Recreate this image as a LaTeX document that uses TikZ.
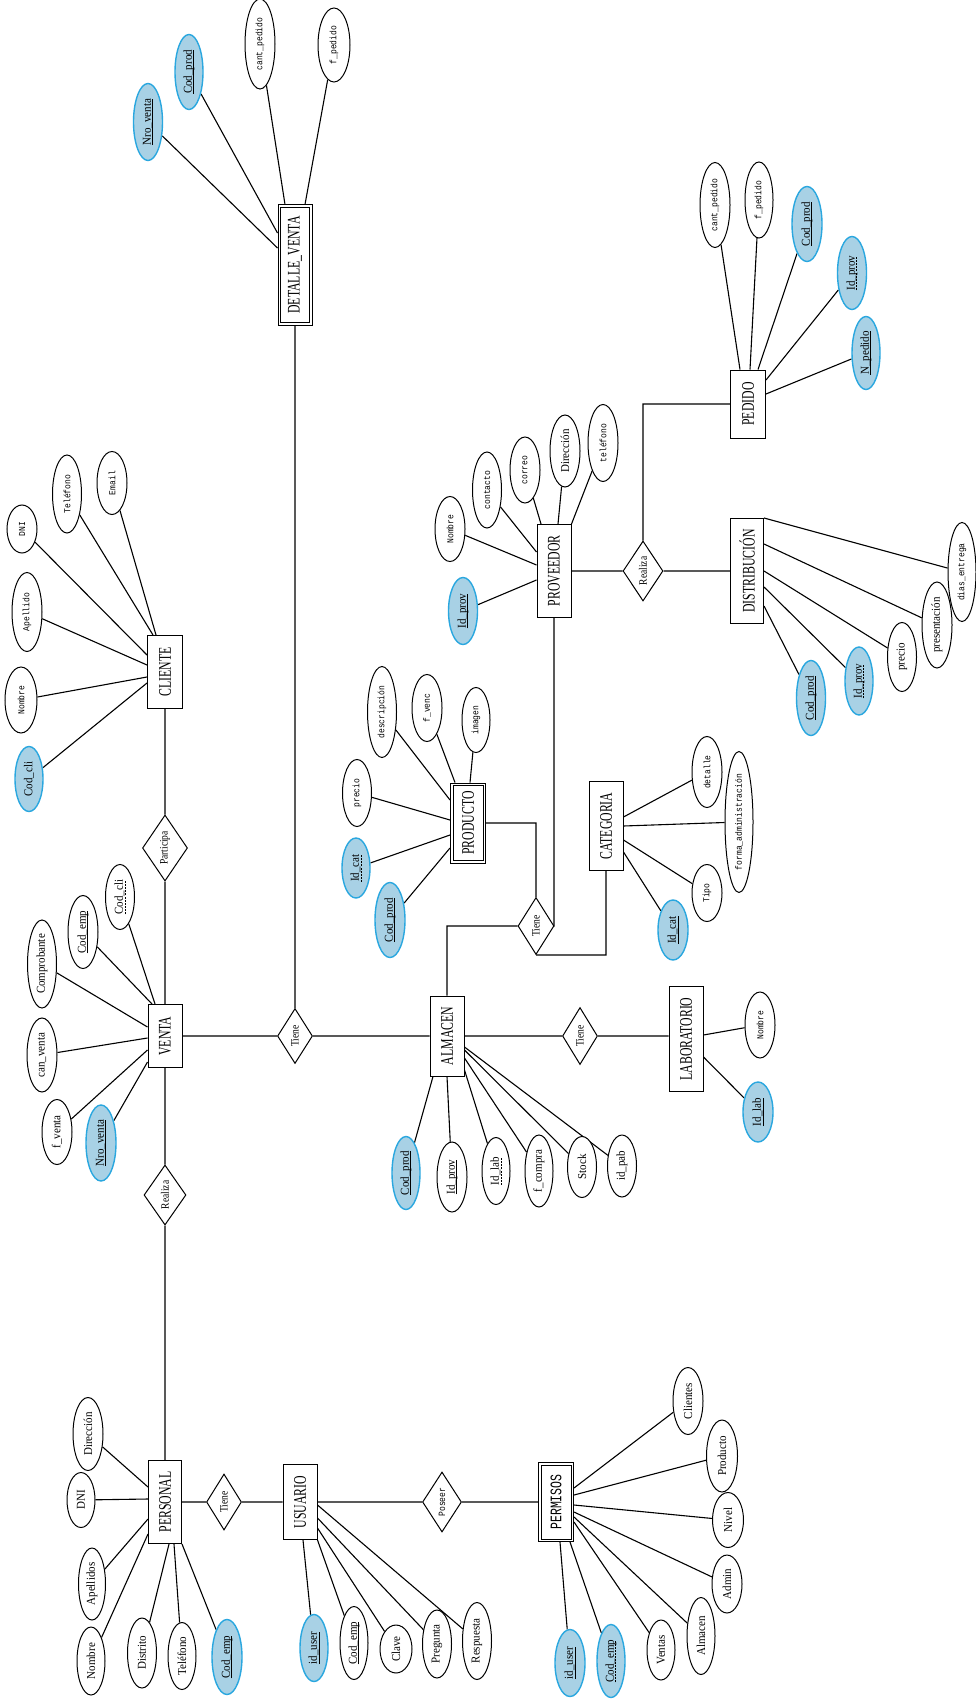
\documentclass[tikz,border=0pt]{standalone}
\usepackage{fontspec}
\setmainfont{Liberation Serif}
\setmonofont{Liberation Mono}
\usetikzlibrary{shapes.geometric,calc}
\definecolor{keyfill}{RGB}{168,209,229}
\definecolor{keyline}{RGB}{42,167,223}
\newcommand\kk{1}
\newcommand\rt[1]{\raisebox{-0.5\height}[0pt][0pt]{\rotatebox{90}{\scalebox{1}[\kk]{#1}}}}
\newcommand\sul[1]{\setbox0\hbox{#1}\rlap{\raisebox{-2.2pt}{\rule{\wd0}{0.8pt}}}\box0}
\newcommand\dul[1]{\setbox0\hbox{#1}\rlap{\raisebox{-2.2pt}{\hbox to \wd0{\xleaders\hbox to 3pt{\rule{2pt}{0.8pt}\hfil}\hfill}}}\box0}
\pgfdeclarelayer{bgfill}
\pgfdeclarelayer{lines}
\pgfsetlayers{bgfill,lines,main}
\begin{document}
\begin{tikzpicture}[x=1pt,y=-1pt,
 sz/.style 2 args={minimum width=#1pt,minimum height=#2pt},
 ent/.style={draw,rectangle,line width=1pt,inner sep=0pt,fill=white,font=\fontsize{11.8}{12}\selectfont\def\kk{1.5}},
 went/.style={ent},
 wentm/.style={ent,font=\ttfamily\fontsize{11.5}{12}\selectfont\def\kk{1.4}},
 inbox/.style={draw=black,line width=0.9pt},
 aT/.style={draw,ellipse,line width=1pt,inner sep=0pt,fill=white,font=\fontsize{11}{12}\selectfont\def\kk{1.1}},
 aM/.style={aT,font=\ttfamily\fontsize{8}{9}\selectfont\def\kk{1.15}},
 kT/.style={aT,draw=keyline,fill=keyfill,line width=1.4pt},
 rel/.style={draw,diamond,line width=1pt,inner sep=0pt,fill=white,font=\fontsize{9.5}{10}\selectfont\def\kk{1.2}},
 relm/.style={rel,font=\ttfamily\fontsize{8}{9}\selectfont\def\kk{1.2}},
 con/.style={draw=black,line width=1.1pt}
]
\begin{pgfonlayer}{bgfill}
\fill[white] (0,0) rectangle (976,1699);
\end{pgfonlayer}
\useasboundingbox (0,0) rectangle (976,1699);

% ---------- entities ----------
\node[went,sz={34}{120}] (dv) at (295,265) {\rt{DETALLE\_VENTA}};
\node[ent,sz={35}{68}] (pe) at (748,404) {\rt{PEDIDO}};
\node[ent,sz={34}{93}] (pv) at (554,571) {\rt{PROVEEDOR}};
\node[ent,sz={33}{105}] (di) at (747,571) {\rt{DISTRIBUCIÓN}};
\node[ent,sz={35}{73}] (cl) at (165,672) {\rt{CLIENTE}};
\node[ent,sz={34}{63}] (ve) at (165,1036) {\rt{VENTA}};
\node[ent,sz={34}{80}] (al) at (447,1036) {\rt{ALMACEN}};
\node[ent,sz={34}{105}] (lab) at (686,1039) {\rt{LABORATORIO}};
\node[went,sz={35}{80}] (pr) at (468,823) {\rt{PRODUCTO}};
\node[ent,sz={34}{89}] (ca) at (606,826) {\rt{CATEGORIA}};
\node[ent,sz={33}{83}] (ps) at (165,1502) {\rt{PERSONAL}};
\node[ent,sz={34}{75}] (us) at (300,1502) {\rt{USUARIO}};
\node[wentm,sz={35}{79}] (pm) at (556,1502) {\rt{PERMISOS}};
% inner outlines of the weak entities
\draw[inbox] ([shift={(3pt,-3pt)}]dv.north west) rectangle ([shift={(-3pt,3pt)}]dv.south east);
\draw[inbox] ([shift={(3pt,-3pt)}]pr.north west) rectangle ([shift={(-3pt,3pt)}]pr.south east);
\draw[inbox] ([shift={(3pt,-3pt)}]pm.north west) rectangle ([shift={(-3pt,3pt)}]pm.south east);

% ---------- relationships ----------
\node[rel,sz={35}{55}] (t1) at (295,1036) {\rt{Tiene}};
\node[rel,sz={40}{60}] (r1) at (643,571) {\rt{Realiza}};
\node[rel,sz={36}{57}] (t2) at (536,926) {\rt{Tiene}};
\node[rel,sz={35}{57}] (t3) at (580,1036) {\rt{Tiene}};
\node[rel,sz={45}{66}] (pa) at (165,848) {\rt{Participa}};
\node[rel,sz={42}{60}] (re2) at (165,1195) {\rt{Realiza}};
\node[rel,sz={35}{56}] (t4) at (224,1502) {\rt{Tiene}};
\node[relm,sz={39}{60}] (po) at (442,1502) {\rt{Poseer}};

% ---------- attributes ----------
% DETALLE_VENTA
\node[kT,sz={29}{77}] (dv1) at (148,122) {\rt{\sul{Nro\_venta}}};
\node[kT,sz={28}{75}] (dv2) at (189,72) {\rt{\sul{Cod\_prod}}};
\node[aM,sz={30}{90}] (dv3) at (260,44) {\rt{cant\_pedido}};
\node[aM,sz={32}{74}] (dv4) at (334,45) {\rt{f\_pedido}};
% PEDIDO
\node[aM,sz={30}{85}] (pe1) at (715,205) {\rt{cant\_pedido}};
\node[aM,sz={28}{76}] (pe2) at (759,200) {\rt{f\_pedido}};
\node[kT,sz={30}{75}] (pe3) at (807,224) {\rt{\sul{Cod\_prod}}};
\node[kT,sz={29}{73}] (pe4) at (852,273) {\rt{\dul{Id\_prov}}};
\node[kT,sz={28}{73}] (pe5) at (866,353) {\rt{\sul{N\_pedido}}};
% PROVEEDOR
\node[kT,sz={29}{67}] (pv1) at (463,611) {\rt{\sul{Id\_prov}}};
\node[aM,sz={30}{65}] (pv2) at (450,529) {\rt{Nombre}};
\node[aM,sz={29}{76}] (pv3) at (487,490) {\rt{contacto}};
\node[aM,sz={30}{66}] (pv4) at (525,470) {\rt{correo}};
\node[aT,sz={30}{72}] (pv5) at (565,451) {\rt{Dirección}};
\node[aM,sz={30}{77}] (pv6) at (603,443) {\rt{teléfono}};
% DISTRIBUCION
\node[aM,sz={28}{99}] (di1) at (962,572) {\rt{dias\_entrega}};
\node[aT,sz={30}{86}] (di2) at (937,625) {\rt{presentación}};
\node[aT,sz={29}{69}] (di3) at (902,657) {\rt{precio}};
\node[kT,sz={28}{68}] (di4) at (859,681) {\rt{\dul{Id\_prov}}};
\node[kT,sz={29}{75}] (di5) at (811,698) {\rt{\sul{Cod\_prod}}};
% CLIENTE
\node[kT,sz={28}{65}] (cl1) at (29,779) {\rt{Cod\_cli}};
\node[aM,sz={32}{66}] (cl2) at (21,700) {\rt{Nombre}};
\node[aM,sz={30}{79}] (cl3) at (27,612) {\rt{Apellido}};
\node[aM,sz={30}{48}] (cl4) at (22,529) {\rt{DNI}};
\node[aM,sz={29}{78}] (cl5) at (67,494) {\rt{Teléfono}};
\node[aM,sz={30}{63}] (cl6) at (112,483) {\rt{Email}};
% VENTA
\node[kT,sz={30}{76}] (ve1) at (101,1143) {\rt{\sul{Nro\_venta}}};
\node[aT,sz={30}{65}] (ve2) at (57,1132) {\rt{f\_venta}};
\node[aT,sz={30}{74}] (ve3) at (42,1055) {\rt{can\_venta}};
\node[aT,sz={29}{88}] (ve4) at (42,964) {\rt{Comprobante}};
\node[aT,sz={30}{73}] (ve5) at (83,932) {\rt{\sul{Cod\_emp}}};
\node[aT,sz={29}{65}] (ve6) at (120,897) {\rt{\dul{Cod\_cli}}};
% ALMACEN
\node[kT,sz={28}{73}] (al1) at (406,1173) {\rt{\sul{Cod\_prod}}};
\node[aT,sz={30}{70}] (al2) at (452,1177) {\rt{\sul{Id\_prov}}};
\node[aT,sz={28}{67}] (al3) at (496,1171) {\rt{\dul{Id\_lab}}};
\node[aT,sz={28}{72}] (al4) at (539,1171) {\rt{f\_compra}};
\node[aT,sz={29}{61}] (al5) at (582,1167) {\rt{Stock}};
\node[aT,sz={29}{62}] (al6) at (622,1166) {\rt{id\_pab}};
% LABORATORIO
\node[aM,sz={30}{66}] (lab1) at (760,1025) {\rt{Nombre}};
\node[kT,sz={30}{60}] (lab2) at (758,1112) {\rt{\sul{Id\_lab}}};
% PRODUCTO
\node[kT,sz={30}{75}] (pr1) at (390,920) {\rt{\sul{Cod\_prod}}};
\node[kT,sz={28}{60}] (pr2) at (356,868) {\rt{\dul{Id\_cat}}};
\node[aM,sz={29}{67}] (pr3) at (357,793) {\rt{precio}};
\node[aM,sz={29}{91}] (pr4) at (382,712) {\rt{descripción}};
\node[aM,sz={30}{67}] (pr5) at (427,708) {\rt{f\_venc}};
\node[aM,sz={28}{65}] (pr6) at (476,720) {\rt{imagen}};
% CATEGORIA
\node[aM,sz={30}{71}] (ca1) at (707,772) {\rt{detalle}};
\node[aM,sz={28}{141}] (ca2) at (739,822) {\rt{forma\_administración}};
\node[aM,sz={30}{57}] (ca3) at (707,893) {\rt{Tipo}};
\node[kT,sz={30}{60}] (ca4) at (673,930) {\rt{\sul{Id\_cat}}};
% PERSONAL
\node[aT,sz={30}{73}] (ps1) at (88,1434) {\rt{Dirección}};
\node[aT,sz={28}{55}] (ps2) at (81,1500) {\rt{DNI}};
\node[aT,sz={27}{72}] (ps3) at (92,1584) {\rt{Apellidos}};
\node[aT,sz={28}{68}] (ps4) at (91,1661) {\rt{Nombre}};
\node[aT,sz={29}{70}] (ps5) at (142,1653) {\rt{Distrito}};
\node[aT,sz={28}{67}] (ps6) at (182,1656) {\rt{Teléfono}};
\node[kT,sz={30}{75}] (ps7) at (227,1657) {\rt{\sul{Cod\_emp}}};
% USUARIO
\node[kT,sz={28}{67}] (us1) at (314,1648) {\rt{\sul{id\_user}}};
\node[aT,sz={28}{73}] (us2) at (354,1643) {\rt{\sul{Cod\_emp}}};
\node[aT,sz={32}{48}] (us3) at (396,1649) {\rt{Clave}};
\node[aT,sz={29}{68}] (us4) at (437,1644) {\rt{Pregunta}};
\node[aT,sz={29}{77}] (us5) at (477,1641) {\rt{Respuesta}};
% PERMISOS
\node[kT,sz={30}{67}] (pm1) at (570,1663) {\rt{\sul{id\_user}}};
\node[kT,sz={28}{73}] (pm2) at (611,1661) {\rt{\dul{Cod\_emp}}};
\node[aT,sz={28}{60}] (pm3) at (661,1650) {\rt{Ventas}};
\node[aT,sz={28}{77}] (pm4) at (701,1636) {\rt{Almacen}};
\node[aT,sz={30}{58}] (pm5) at (727,1584) {\rt{Admin}};
\node[aT,sz={31}{55}] (pm6) at (728,1520) {\rt{Nivel}};
\node[aT,sz={31}{72}] (pm7) at (722,1456) {\rt{Producto}};
\node[aT,sz={30}{67}] (pm8) at (688,1401) {\rt{Clientes}};

% ---------- connectors ----------
\begin{pgfonlayer}{lines}
\path[con]
 (dv1) -- ([yshift=17pt]dv.west)
 (dv2) -- ([yshift=32pt]dv.west)
 (dv3) -- ([xshift=-10pt]dv.north)
 (dv4) -- ([xshift=10pt]dv.north)
 (dv.south) -- (t1.north)
 (pe1) -- ([xshift=-8pt]pe.north)
 (pe2) -- ([xshift=2pt]pe.north)
 (pe3) -- ([xshift=10pt]pe.north)
 (pe4) -- ([yshift=24pt]pe.east)
 (pe5) -- ([yshift=10pt]pe.east)
 (pe.west) -| (r1.north)
 (pv1) -- ([yshift=-9pt]pv.west)
 (pv2) -- ([yshift=6pt]pv.west)
 (pv3) -- ([yshift=19pt]pv.west)
 (pv4) -- ([xshift=-13pt]pv.north)
 (pv5) -- ([xshift=4pt]pv.north)
 (pv6) -- (pv.north east)
 (pv.east) -- (r1.west)
 (r1.east) -- (di.west)
 (pv.south) |- (t2.east)
 (di1) -- (di.north east)
 (di2) -- ([yshift=27pt]di.east)
 (di3) -- (di.east)
 (di4) -- ([yshift=-16pt]di.east)
 (di5) -- ([yshift=-35pt]di.east)
 (cl1) -- ([yshift=-11pt]cl.west)
 (cl2) -- ([yshift=-5pt]cl.west)
 (cl3) -- ([yshift=7pt]cl.west)
 (cl4) -- ([yshift=17pt]cl.west)
 (cl5) -- ([xshift=-12pt]cl.north)
 (cl6) -- ([xshift=-9pt]cl.north)
 (cl.south) -- (pa.north)
 (pa.south) -- (ve.north)
 (ve1) -- ([yshift=-26pt]ve.west)
 (ve2) -- ([yshift=-14pt]ve.west)
 (ve3) -- ([yshift=-2pt]ve.west)
 (ve4) -- ([yshift=9pt]ve.west)
 (ve5) -- ([xshift=-13pt]ve.north)
 (ve6) -- ([xshift=-10pt]ve.north)
 (ve.east) -- (t1.west)
 (t1.east) -- (al.west)
 (ve.south) -- (re2.north)
 (re2.south) -- (ps.north)
 (al1) -- ([xshift=-14pt]al.south)
 (al2) -- (al.south)
 (al3) -- ([yshift=-34pt]al.east)
 (al4) -- ([yshift=-22pt]al.east)
 (al5) -- ([yshift=-14pt]al.east)
 (al6) -- ([yshift=-11pt]al.east)
 (al.east) -- (t3.west)
 (t3.east) -- (t3.east -| lab.west)
 (al.north) |- (t2.west)
 (lab1) -- ([yshift=4pt]lab.east)
 (lab2) -- ([yshift=-18pt]lab.east)
 (t2.north) |- (pr.east)
 (pr1) -- ([yshift=-25pt]pr.west)
 (pr2) -- ([yshift=-12pt]pr.west)
 (pr3) -- ([yshift=3pt]pr.west)
 (pr4) -- ([yshift=23pt]pr.west)
 (pr5) -- ([xshift=-13pt]pr.north)
 (pr6) -- ([xshift=2pt]pr.north)
 (t2.south) -| (ca.south)
 (ca1) -- ([yshift=9pt]ca.east)
 (ca2) -- (ca.east)
 (ca3) -- ([yshift=-14pt]ca.east)
 (ca4) -- ([yshift=-26pt]ca.east)
 (ps1) -- ([yshift=15pt]ps.west)
 (ps2) -- ([yshift=3pt]ps.west)
 (ps3) -- ([yshift=-17pt]ps.west)
 (ps4) -- ([yshift=-32pt]ps.west)
 (ps5) -- ([xshift=4pt]ps.south)
 (ps6) -- ([xshift=9pt]ps.south)
 (ps7) -- (ps.south east)
 (ps.east) -- (t4.west)
 (t4.east) -- (us.west)
 (us1) -- ([xshift=3pt]us.south)
 (us2) -- (us.south east)
 (us3) -- ([yshift=-26pt]us.east)
 (us4) -- ([yshift=-16pt]us.east)
 (us5) -- ([yshift=-3pt]us.east)
 (us.east) -- (po.west)
 (po.east) -- (pm.west)
 (pm1) -- ([xshift=4pt]pm.south)
 (pm2) -- ([xshift=14pt]pm.south)
 (pm3) -- ([yshift=-20pt]pm.east)
 (pm4) -- ([yshift=-15pt]pm.east)
 (pm5) -- ([yshift=-10pt]pm.east)
 (pm6) -- ([yshift=-3pt]pm.east)
 (pm7) -- ([yshift=7pt]pm.east)
 (pm8) -- ([yshift=14pt]pm.east);
\end{pgfonlayer}
\end{tikzpicture}
\end{document}
